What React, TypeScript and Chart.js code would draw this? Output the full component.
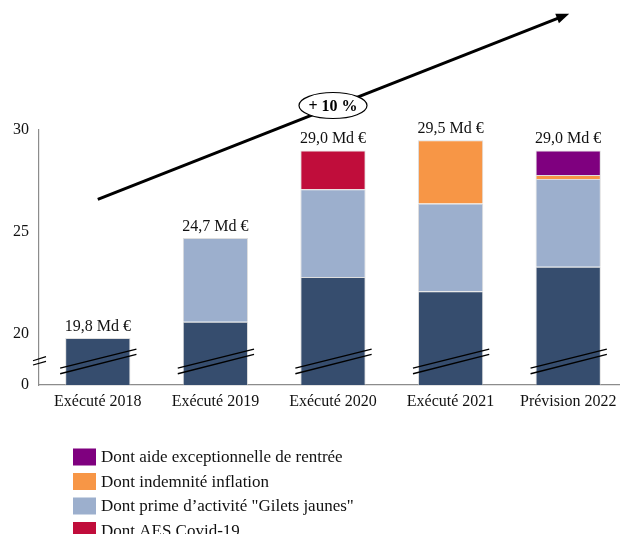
import { useEffect, useRef } from "react";
import { Chart, registerables } from "chart.js";
Chart.register(...registerables);

const categories = ["Exécuté 2018", "Exécuté 2019", "Exécuté 2020", "Exécuté 2021", "Prévision 2022"];
const socle = [19.8, 20.6, 22.8, 22.1, 23.3];
const primeGiletsJaunes = [null, 4.1, 4.3, 4.3, 4.3];
const aesCovid = [null, null, 1.9, null, null];
const indemniteInflation = [null, null, null, 3.1, 0.2];
const aideRentree = [null, null, null, null, 1.2];
const totalLabels = ["19,8 Md €", "24,7 Md €", "29,0 Md €", "29,5 Md €", "29,0 Md €"];
const yTicks = [17.5, 20, 25, 30]; // 17.5 is shown as "0" (broken axis)
const growthLabel = "+ 10 %";

const COLORS = {
  socle: "#364D6E",
  prime: "#9CAFCD",
  aes: "#C00D3B",
  inflation: "#F79646",
  aide: "#7F007F",
};

const legendItems = [
  { label: "Dont aide exceptionnelle de rentrée", color: COLORS.aide },
  { label: "Dont indemnité inflation", color: COLORS.inflation },
  { label: "Dont prime d’activité \"Gilets jaunes\"", color: COLORS.prime },
  { label: "Dont AES Covid-19", color: COLORS.aes },
];

const FONT = "'Liberation Serif', 'DejaVu Serif', serif";

const decorPlugin = {
  id: "decor",
  afterDatasetsDraw(chart: any) {
    const ctx = chart.ctx;
    const y = chart.scales.y;
    const meta0 = chart.getDatasetMeta(0);
    const metas = chart.data.datasets.map((_: any, i: number) => chart.getDatasetMeta(i));
    ctx.save();
    // break lines on bars
    meta0.data.forEach((el: any) => {
      const x0 = el.x - el.width / 2 - 5;
      const x1 = el.x + el.width / 2 + 6;
      ctx.strokeStyle = "#000";
      ctx.lineWidth = 1.4;
      ctx.beginPath();
      ctx.moveTo(x0, y.getPixelForValue(18.33));
      ctx.lineTo(x1, y.getPixelForValue(19.26));
      ctx.moveTo(x0, y.getPixelForValue(18.05));
      ctx.lineTo(x1, y.getPixelForValue(19.0));
      ctx.stroke();
    });
    // total labels
    ctx.fillStyle = "#111";
    ctx.font = `16px ${FONT}`;
    ctx.textAlign = "center";
    ctx.textBaseline = "alphabetic";
    categories.forEach((_, i) => {
      let top = Infinity;
      metas.forEach((m: any) => {
        const el = m.data[i];
        if (el && el.y != null && !isNaN(el.y) && chart.data.datasets[m.index].data[i] != null) {
          top = Math.min(top, el.y);
        }
      });
      ctx.fillText(totalLabels[i], meta0.data[i].x, top - 7);
    });
    ctx.restore();
  },
  afterDraw(chart: any) {
    const ctx = chart.ctx;
    const x = chart.scales.x;
    const y = chart.scales.y;
    ctx.save();
    // axis break marks
    const ax = chart.chartArea.left;
    ctx.strokeStyle = "#000";
    ctx.lineWidth = 1.2;
    ctx.beginPath();
    ctx.moveTo(ax - 6, y.getPixelForValue(18.69));
    ctx.lineTo(ax + 7, y.getPixelForValue(18.89));
    ctx.moveTo(ax - 6, y.getPixelForValue(18.48));
    ctx.lineTo(ax + 7, y.getPixelForValue(18.66));
    ctx.stroke();

    // growth arrow
    const sx = x.getPixelForValue(0);
    const sy = y.getPixelForValue(26.6);
    const ex = x.getPixelForValue(4) + 1;
    const ey = y.getPixelForValue(35.7);
    const ang = Math.atan2(ey - sy, ex - sx);
    const hl = 13;
    const hw = 5;
    ctx.lineWidth = 3;
    ctx.beginPath();
    ctx.moveTo(sx, sy);
    ctx.lineTo(ex - Math.cos(ang) * hl * 0.8, ey - Math.sin(ang) * hl * 0.8);
    ctx.stroke();
    ctx.fillStyle = "#000";
    ctx.beginPath();
    ctx.moveTo(ex, ey);
    ctx.lineTo(ex - Math.cos(ang) * hl - Math.sin(ang) * hw, ey - Math.sin(ang) * hl + Math.cos(ang) * hw);
    ctx.lineTo(ex - Math.cos(ang) * hl + Math.sin(ang) * hw, ey - Math.sin(ang) * hl - Math.cos(ang) * hw);
    ctx.closePath();
    ctx.fill();

    // ellipse label
    const cx = x.getPixelForValue(2);
    const cy = y.getPixelForValue(31.2);
    ctx.beginPath();
    ctx.ellipse(cx, cy, 34, 13, 0, 0, Math.PI * 2);
    ctx.fillStyle = "#fff";
    ctx.fill();
    ctx.lineWidth = 1.2;
    ctx.strokeStyle = "#000";
    ctx.stroke();
    ctx.fillStyle = "#000";
    ctx.font = `bold 16px ${FONT}`;
    ctx.textAlign = "center";
    ctx.textBaseline = "middle";
    ctx.fillText(growthLabel, cx, cy + 1);

    // legend
    ctx.font = `17px ${FONT}`;
    ctx.textAlign = "left";
    ctx.textBaseline = "middle";
    legendItems.forEach((it, i) => {
      const rowY = 457 + i * 24.5;
      ctx.fillStyle = it.color;
      ctx.fillRect(73, rowY - 8.5, 23, 17);
      ctx.fillStyle = "#111";
      ctx.fillText(it.label, 101, rowY + 1);
    });
    ctx.restore();
  },
};

export default function App() {
  const ref = useRef<HTMLCanvasElement | null>(null);
  useEffect(() => {
    if (!ref.current) return;
    const mk = (label: string, data: any[], color: string) => ({
      label,
      data,
      backgroundColor: color,
      borderColor: "rgba(200,200,200,0.6)",
      borderWidth: 1,
      barPercentage: 0.555,
      categoryPercentage: 1,
    });
    const chart = new Chart(ref.current, {
      type: "bar",
      data: {
        labels: categories,
        datasets: [
          mk("Socle", socle, COLORS.socle),
          mk("Dont prime d’activité \"Gilets jaunes\"", primeGiletsJaunes, COLORS.prime),
          mk("Dont AES Covid-19", aesCovid, COLORS.aes),
          mk("Dont indemnité inflation", indemniteInflation, COLORS.inflation),
          mk("Dont aide exceptionnelle de rentrée", aideRentree, COLORS.aide),
        ],
      },
      options: {
        animation: false,
        responsive: false,
        devicePixelRatio: 1,
        layout: { padding: { top: 130, left: 0, right: 3, bottom: 119 } },
        plugins: { legend: { display: false }, tooltip: { enabled: false } },
        scales: {
          x: {
            stacked: true,
            grid: { display: false, drawTicks: false },
            border: { display: true, color: "#8c8c8c", width: 1.2 },
            ticks: { color: "#111", font: { family: FONT, size: 16 }, padding: 7, maxRotation: 0 },
            afterFit: (s: any) => { s.height = 30; },
          },
          y: {
            stacked: true,
            min: 17.5,
            max: 30,
            grid: { display: false, drawTicks: false },
            border: { display: true, color: "#8c8c8c", width: 1.2 },
            afterBuildTicks: (s: any) => { s.ticks = yTicks.map((v) => ({ value: v })); },
            ticks: {
              color: "#111",
              font: { family: FONT, size: 16 },
              padding: 10,
              callback: (v: any) => (v === 17.5 ? "0" : String(v)),
            },
            afterFit: (s: any) => { s.width = 39; },
          },
        },
      },
      plugins: [decorPlugin],
    } as any);
    return () => chart.destroy();
  }, []);
  return (
    <div style={{ position: "absolute", left: 0, top: 0, width: 620, height: 534, overflow: "hidden", background: "#fff" }}>
      <canvas ref={ref} width={630} height={534} style={{ width: 630, height: 534, display: "block" }} />
    </div>
  );
}
